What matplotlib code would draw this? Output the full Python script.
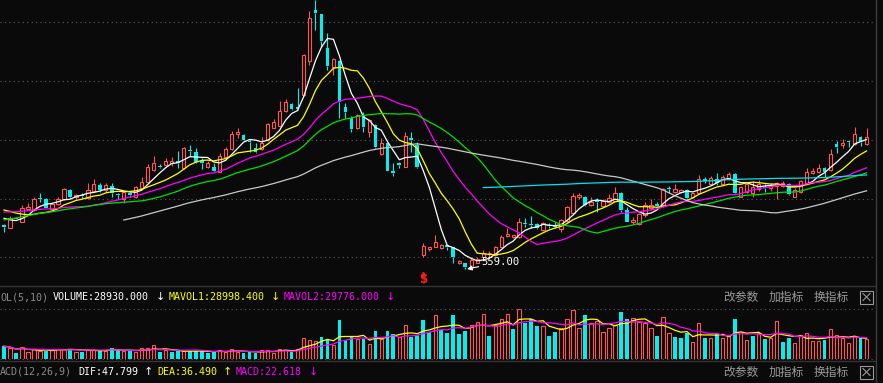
import numpy as np
import pandas as pd
import matplotlib
matplotlib.use('Agg')
import matplotlib.pyplot as plt
from matplotlib.lines import Line2D
from matplotlib.patches import Rectangle

W, H = 883, 383
BG = '#0a0a0a'
RED = '#ff5555'
CYAN = '#00f0f0'

# daily candles (price units)
opens = [602.7, 600.3, 610.3, 606.3, 618.7, 618, 629.5, 628.7, 618.7, 623.7,
         628.7, 638, 630.7, 633, 629.7, 637.3, 643, 638, 642, 634.5,
         628.7, 635.5, 630.7, 639.7, 646.3, 658, 662.5, 663, 665, 667,
         659.7, 678, 676.3, 667.5, 661.3, 661.3, 656.3, 671.3, 678.7, 694,
         693, 687.3, 680.3, 679, 688, 700.3, 702, 717, 723.7, 720.7,
         733, 767.3, 818, 814, 779.7, 761.3, 767, 720.7, 709.7, 699.7,
         712, 696, 703, 673.7, 684.7, 657.3, 664.7, 661.3, 690.3, 683,
         573, 578.7, 581.3, 579.7, 582.7, 580.7, 564.7, 564.7, 561.3, 565.3,
         571.3, 573.7, 573, 581.3, 592, 590.7, 590.7, 605, 604, 604,
         598, 602.7, 603, 598.7, 607.3, 615.3, 630.7, 631.3, 623, 628,
         622, 626.3, 627.3, 635.3, 618, 606.3, 604, 613, 620, 624,
         623, 639.5, 636.3, 636, 638, 630.7, 635.5, 648.7, 644, 649.2,
         644, 649, 654, 631.3, 636, 635, 639, 641.3, 640, 642.5,
         642, 644, 631.3, 636.3, 645, 654.7, 656.3, 659.7, 658, 684,
         683, 686.5, 684, 690.7, 684]
highs = [604, 612, 611.3, 623, 625.3, 630.7, 634.7, 629.7, 624.7, 631.3,
         640.3, 639.3, 634, 634.7, 644.7, 648.7, 644.7, 644.7, 644.7, 634.7,
         636.3, 636.3, 642, 650.7, 663.7, 672, 664, 669.7, 670.7, 677.3,
         680.7, 683, 679.7, 669.7, 667, 664.7, 674.7, 681.3, 697.3, 700.3,
         694, 688.7, 684.7, 691.3, 705.3, 708.7, 727.3, 729, 724.7, 739.7,
         774, 817, 828, 814, 794.7, 769.7, 767.7, 724.7, 712, 713.7,
         716.3, 709, 703.7, 689.7, 685.3, 664.7, 666.3, 695.7, 696.3, 686.3,
         584.7, 581.3, 593, 584, 584, 581, 567.7, 565, 569.7, 571.3,
         578, 577.3, 582.3, 593, 599.7, 593.3, 609.7, 609.7, 612, 605.3,
         606.3, 605.3, 606.3, 609, 622, 634.7, 634.7, 632, 631.3, 629.7,
         628.7, 633.7, 640.7, 636.3, 620.7, 611.3, 614.7, 626.3, 628.7, 626.3,
         639.7, 642, 644, 639, 639, 635.3, 653, 651.3, 652, 655.3,
         653, 655.7, 655, 642, 645.3, 647, 648, 644, 645, 646.3,
         647.3, 645.3, 639.7, 648, 659.7, 659.7, 663.7, 661.3, 678.7, 687.3,
         688.7, 687.3, 701.3, 692, 700.3]
lows = [596.3, 600, 608.7, 606, 618, 617.3, 626.3, 619.7, 618, 622.7,
        628, 630.3, 629, 629.7, 628.7, 636, 636.3, 636.3, 631.3, 628.7,
        625.3, 631.3, 629.7, 638.7, 645.3, 657.3, 659.7, 662, 662, 659.7,
        659, 672, 664.7, 659, 660.3, 656.3, 656, 670.3, 678, 689.7,
        687.3, 675.7, 674.7, 678, 687.3, 699.7, 701.3, 716.3, 718, 718,
        732.3, 763, 798, 781.3, 758, 753, 710.3, 709.7, 696.3, 699,
        696.3, 691.3, 679.7, 673, 656.7, 652.3, 659.7, 661, 676.3, 660,
        570.7, 577.3, 581, 579, 578, 565.3, 564, 559, 561, 564.7,
        570.7, 571.3, 572.3, 580.7, 591.3, 589.7, 589.7, 601.3, 599.7, 598.7,
        597.3, 599.7, 599.7, 596.3, 606.3, 614.7, 629, 622, 622, 616.3,
        621.3, 625.3, 627.3, 616.3, 606, 603.7, 603, 610.7, 618, 621.3,
        621.3, 634.7, 635.3, 634.7, 627.3, 629.7, 635, 644.7, 643, 643,
        643, 648, 634.5, 630.7, 634.7, 631.3, 637, 636.3, 637.3, 628.7,
        641, 633, 630.7, 635.3, 644, 654, 655.3, 651.3, 657.3, 675.3,
        679.7, 681.3, 683.3, 682, 683]
closes = [601.3, 610.3, 609.3, 619.7, 621.3, 628.7, 629, 620.3, 623.7, 629,
          639.3, 631.3, 633, 632, 638, 643.7, 638, 643, 635.3, 633,
          636.3, 633, 640.7, 646.3, 661.3, 665.3, 661.5, 667.3, 667, 665.3,
          679.7, 677, 666.3, 665, 664.7, 657.3, 672.3, 679, 694, 695.7,
          688, 686, 675.7, 685.3, 704, 706.3, 717, 725.7, 719, 719.3,
          773, 809.7, 815.3, 787.3, 762.3, 768.7, 726.3, 716.3, 699, 713,
          701.3, 708, 681.3, 685, 657.3, 654.7, 663, 692, 688, 661.3,
          582, 580.7, 585.7, 583, 581.3, 570.7, 567, 561.3, 568, 568.7,
          575.3, 575, 581.3, 591.3, 593.7, 593, 606.3, 604, 603, 599.7,
          605.3, 602, 601.5, 608, 621.3, 632, 633, 623, 625.7, 626.3,
          627.3, 629.7, 635.3, 618, 606.3, 608, 613.7, 623, 623.5, 622,
          638.7, 639, 638.7, 638, 630, 634.7, 649, 647, 649.7, 645,
          651.3, 654.5, 635.3, 640.7, 644.5, 641.3, 644, 639.7, 643, 645.3,
          644.7, 634, 638, 647, 656.3, 657.3, 660, 656, 674, 681.3,
          685.3, 685.7, 693.7, 686.3, 691.3]
# closes before the first visible candle, estimated from where the averages sit
prior_closes = [556, 559, 561, 563, 564, 566, 567, 568, 570, 572,
                578, 582, 585, 589, 591, 594, 597, 599, 601, 604,
                606, 608, 610, 612, 613, 615, 616, 618, 620, 622,
                624, 627, 629, 628, 623.5, 618, 613, 610, 606.2]
volume = [18200, 15820, 8820, 16800, 9800, 14980, 11620, 11620, 12600, 14980,
          14980, 14980, 10220, 10220, 13580, 13580, 11620, 11620, 15400, 13580,
          11620, 11620, 9800, 15400, 15400, 19600, 9800, 12600, 9800, 11620,
          11620, 11620, 11620, 11620, 8820, 9800, 13580, 9800, 14980, 9800,
          8820, 10220, 8820, 13580, 12600, 8820, 14980, 13580, 10220, 14980,
          28980, 26180, 24780, 30800, 27580, 19600, 54600, 26180, 30800, 27580,
          27580, 21000, 39200, 27580, 39200, 35420, 30800, 47600, 30800, 33180,
          54600, 37800, 61600, 40600, 36820, 61600, 35420, 39200, 47600, 51380,
          63000, 32200, 47600, 55580, 63000, 41580, 69580, 50820, 55580, 46200,
          46200, 32200, 37800, 43820, 55580, 68600, 42980, 61600, 50820, 53620,
          37800, 42980, 47600, 65800, 56000, 56980, 52220, 49980, 42980, 32200,
          59220, 36820, 30800, 29400, 36820, 23800, 49980, 29400, 29400, 35420,
          29400, 33180, 56000, 36820, 26180, 32200, 36820, 28420, 29400, 53200,
          23800, 29400, 22820, 34020, 35980, 25300, 25300, 26240, 42620, 33308,
          29500, 22180, 33060, 31322, 28930]

grid_prices = [805.7, 746.7, 687.7, 628.7, 570.7]
ma_windows = [5, 10, 20, 30, 60, 120]
ma_colors = ['#ffffff', '#ffff00', '#ff00ff', '#00e000', '#c8c8c8', '#00e0f0']
vol_windows = [5, 10]
vol_colors = ['#ffff00', '#ff00ff']

o = np.array(opens); c = np.array(closes)
hi = np.array(highs); lo = np.array(lows); v = np.array(volume)
n = len(c)
idx = np.arange(n)

fig = plt.figure(figsize=(W / 100, H / 100), dpi=100, facecolor=BG)

def rect(x0, y0, x1, y1):
    # pixel box -> figure fraction
    return [x0 / W, 1 - y1 / H, (x1 - x0) / W, (y1 - y0) / H]

def ftext(x, y, s, color, **kw):
    kw.setdefault('family', 'DejaVu Sans Mono')
    kw.setdefault('fontsize', 7.2)
    fig.text(x / W, 1 - y / H, s, color=color, va='center', ha='left', **kw)

step = 5.99
xl = (-4 / step, -4 / step + 875 / step)

# ---- main price panel
ax = fig.add_axes(rect(0, 0, 875, 285.5))
ax.set_facecolor(BG)
ax.set_xlim(*xl)
ax.set_ylim(828 - 285.5, 828)
ax.set_axis_off()
for p in grid_prices:
    ax.axhline(p, color='#5a5a5a', lw=0.8, ls=(0, (1, 3)), zorder=0)

up = c >= o
top = np.maximum(o, c)
bot = np.minimum(o, c)
body = np.maximum(top - bot, 0.9)
cols = np.where(up, RED, CYAN)
ax.vlines(idx, top, hi, colors=cols, lw=0.8, zorder=2)
ax.vlines(idx, lo, bot, colors=cols, lw=0.8, zorder=2)
ax.bar(idx[up], body[up], bottom=bot[up], width=0.55, facecolor=BG,
       edgecolor=RED, lw=0.8, zorder=3)
ax.bar(idx[~up], body[~up], bottom=bot[~up], width=0.62, color=CYAN, lw=0, zorder=3)

# moving averages over earlier history + visible closes
cs = pd.Series(prior_closes + closes)
npre = len(prior_closes)
for w, col in zip(ma_windows, ma_colors):
    ma = cs.rolling(w).mean().values[npre:]
    ax.plot(idx, ma, color=col, lw=0.9, zorder=4)

# lowest price label
k = int(np.argmin(lo))
ax.annotate('%.2f' % lo[k], xy=(k + 0.3, lo[k]), xytext=(k + 2.7, lo[k] + 6.7),
            color='white', fontsize=7.6, family='DejaVu Sans Mono', va='center',
            arrowprops=dict(arrowstyle='-|>', color='white', lw=0.8,
                            shrinkA=0, shrinkB=0, mutation_scale=7), zorder=6)

# signal mark under the gap-down candle
ax.text(70, 549, '$', color='#ff1a1a', fontsize=8.5, fontweight='bold',
        ha='center', va='center', zorder=6)
ax.plot([70], [554.5], marker='^', ms=3, color='#ff1a1a', zorder=6)

# ---- volume panel
axv = fig.add_axes(rect(0, 309.3, 875, 359.3))
axv.set_facecolor(BG)
axv.set_xlim(*xl)
axv.set_ylim(0, v.max())
axv.set_axis_off()
axv.axhline(v.max(), color='#5a5a5a', lw=0.8, ls=(0, (1, 3)), clip_on=False)
axv.axhline(0, color='#5a5a5a', lw=0.8, ls=(0, (1, 3)), clip_on=False)
prev = np.r_[c[0], c[:-1]]
vup = c >= prev
vup[0] = up[0]
axv.bar(idx[vup], v[vup], width=0.55, facecolor=BG, edgecolor=RED, lw=0.8)
axv.bar(idx[~vup], v[~vup], width=0.62, color=CYAN, lw=0)
vs = pd.Series(v)
for w, col in zip(vol_windows, vol_colors):
    axv.plot(idx, vs.rolling(w, min_periods=1).mean(), color=col, lw=0.9)

# ---- frame lines
for yy in [285.5, 360.5]:
    fig.add_artist(Line2D([0, 875 / W], [1 - yy / H] * 2, color='#333333', lw=1))
fig.add_artist(Line2D([875.5 / W] * 2, [0, 1], color='#3c3c3c', lw=1))

# ---- header rows
GRAY = '#8a8a8a'
ftext(0, 297, 'OL(5,10)', GRAY)
ftext(53, 297, 'VOLUME:28930.000', 'white')
ftext(156, 297, '↓', 'white', family='DejaVu Sans', fontsize=8)
ftext(169, 297, 'MAVOL1:28998.400', '#ffff00')
ftext(271, 297, '↓', '#ffff00', family='DejaVu Sans', fontsize=8)
ftext(284, 297, 'MAVOL2:29776.000', '#ff00ff')
ftext(386, 297, '↓', '#ff00ff', family='DejaVu Sans', fontsize=8)

ftext(0, 372, 'ACD(12,26,9)', GRAY)
ftext(78, 372, 'DIF:47.799', 'white')
ftext(144, 372, '↑', 'white', family='DejaVu Sans', fontsize=8)
ftext(157, 372, 'DEA:36.490', '#ffff00')
ftext(223, 372, '↑', '#ffff00', family='DejaVu Sans', fontsize=8)
ftext(236, 372, 'MACD:22.618', '#ff00ff')
ftext(309, 372, '↓', '#ff00ff', family='DejaVu Sans', fontsize=8)

for yy in [297, 372]:
    for xx, s in zip([723, 769, 814], ['改参数', '加指标', '换指标']):
        ftext(xx, yy, s, '#9a9a9a', family='Noto Sans CJK SC', fontsize=8.5)
    fig.add_artist(Rectangle((860 / W, 1 - (yy + 6.5) / H), 13 / W, 13 / H,
                             fill=False, edgecolor='#9a9a9a', lw=0.8))
    fig.add_artist(Line2D([863 / W, 870 / W], [1 - (yy - 3.5) / H, 1 - (yy + 3.5) / H],
                          color='#9a9a9a', lw=0.8))
    fig.add_artist(Line2D([863 / W, 870 / W], [1 - (yy + 3.5) / H, 1 - (yy - 3.5) / H],
                          color='#9a9a9a', lw=0.8))

fig.savefig('out.png', dpi=100, facecolor=BG)
